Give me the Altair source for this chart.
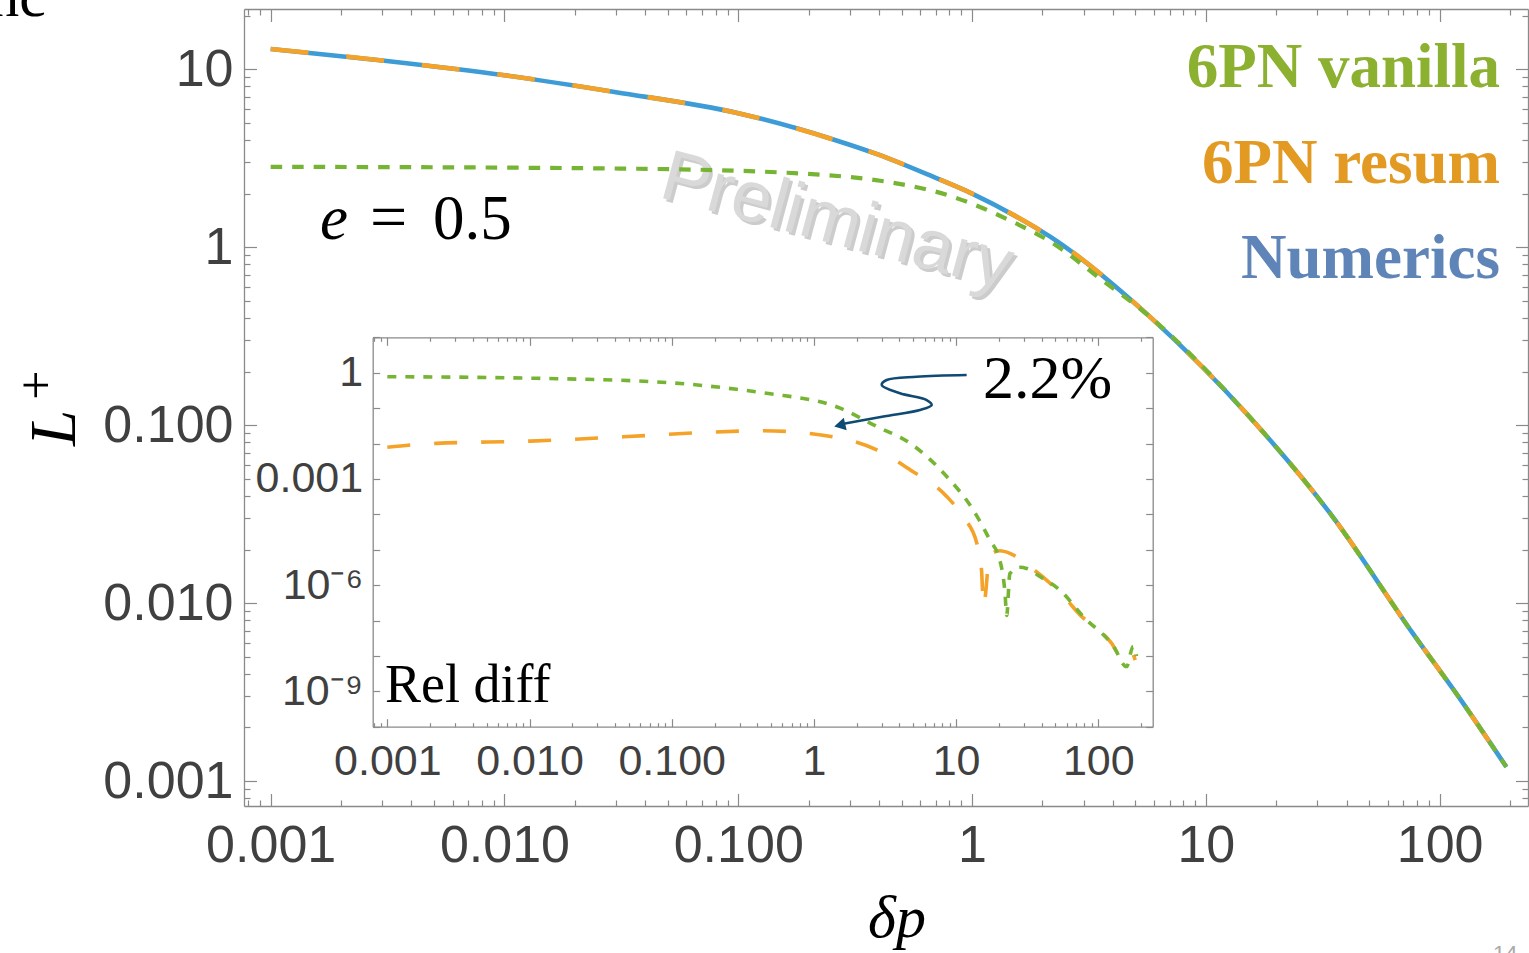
import altair as alt
import pandas as pd

# ---------------- main panel: L+ versus delta p ----------------
num_dp = [0.001, 0.003, 0.01, 0.03, 0.1, 0.255, 0.398, 0.684, 1.0, 1.556, 2.15, 5.77, 15.4, 33.9, 76.7, 124.0, 193.0]
num_L = [13.0, 11.2, 9.25, 7.43, 5.66, 4.03, 3.31, 2.48, 2.0, 1.48, 1.15, 0.406, 0.111, 0.0321, 0.00678, 0.00282, 0.00120]

resum_dp = [0.001, 0.003, 0.01, 0.03, 0.1, 0.255, 0.398, 0.684, 1.0, 1.556, 2.15, 5.77, 15.4, 33.9, 76.7, 124.0, 193.0]
resum_L = [13.0, 11.2, 9.25, 7.43, 5.66, 4.03, 3.31, 2.48, 2.0, 1.48, 1.15, 0.406, 0.111, 0.0321, 0.00678, 0.00282, 0.00120]

vanilla_dp = [0.001, 0.0284, 0.162, 0.68, 1.56, 2.15, 3.52, 5.77, 15.4, 33.9, 76.7, 124.0, 193.0]
vanilla_L = [2.83, 2.77, 2.62, 2.07, 1.35, 1.08, 0.668, 0.406, 0.111, 0.0321, 0.00678, 0.00282, 0.00120]

# ---------------- inset: relative difference ----------------
rel_van_dp = [0.001, 0.0112, 0.097, 0.286, 0.466, 1.53, 2.77, 4.74, 8.59, 13.2, 17.3, 20.3, 22.1, 22.7,
              23.9, 28.1, 31.4, 38.9, 53.8, 78.5, 128.0, 158.0, 176.0, 186.0]
rel_van = [0.771, 0.695, 0.521, 0.340, 0.262, 0.100, 0.0302, 0.0102, 1.17e-3, 1.32e-4, 1.86e-5, 5.1e-6,
           5.8e-7, 1.4e-7, 2.1e-6, 3.2e-6, 2.95e-6, 1.74e-6, 7.2e-7, 1.29e-7, 1.86e-8, 5.0e-9, 1.86e-8, 9.8e-9]

rel_res_dp = [0.001, 0.00145, 0.00222, 0.0101, 0.0457, 0.167, 0.441, 1.53, 2.77, 4.74, 8.59, 11.2, 14.0,
              15.1, 15.6, 17.3, 20.3, 23.9, 33.0, 44.5, 58.5, 76.6, 95.1, 124.0, 139.0, 147.0, 163.0, 182.0]
rel_res = [7.8e-3, 9.1e-3, 0.0101, 0.0117, 0.0155, 0.0204, 0.0229, 0.0141, 6.6e-3, 1.82e-3, 3.2e-4, 8.5e-5,
           1.51e-5, 2.7e-6, 2.6e-7, 7.1e-6, 9.3e-6, 7.9e-6, 3.3e-6, 1.26e-6, 4.3e-7, 1.29e-7, 6.6e-8, 2.3e-8,
           1.2e-8, 1.17e-8, 1.82e-8, 7.6e-9]

# annotation arrow ("2.2%") in inset coordinates
arrow_dp = [11.87, 5.28, 3.25, 3.00, 4.03, 6.21, 6.74, 5.57, 3.25, 2.11, 1.65]
arrow_rel = [0.861, 0.771, 0.622, 0.450, 0.262, 0.169, 0.122, 0.0883, 0.0598, 0.0441, 0.0367]
arrow_head_dp = [1.52]
arrow_head_rel = [0.0327]

# tick labels
main_x_major = [0.001, 0.01, 0.1, 1, 10, 100]
main_y_major = [0.001, 0.01, 0.1, 1, 10]
inset_x_major = [0.001, 0.01, 0.1, 1, 10, 100]
inset_y_labeled = [1, 0.001, 1e-6, 1e-9]
inset_y_decades = [1e-10, 1e-9, 1e-8, 1e-7, 1e-6, 1e-5, 1e-4, 1e-3, 1e-2, 1e-1, 1, 10]

DEC_LABEL = ("datum.value < 0.005 ? '0.001' : datum.value < 0.05 ? '0.010' : datum.value < 0.5 ? '0.100' : "
             "datum.value < 5 ? '1' : datum.value < 50 ? '10' : '100'")
INSET_Y_LABEL = ("datum.value > 0.5 ? '1' : datum.value > 1e-4 ? '0.001' : datum.value > 1e-7 ? '10⁻⁶' : '10⁻⁹'")

# ---------------- styling ----------------
W, H = 1284, 797
GRAY = "#8a8a8a"
LAB = "#404040"
BLUE = "#3D9BD5"
ORANGE = "#F4A228"
GREEN = "#76B534"

MAIN_X = dict(type="log", domain=[0.000769, 238.8], nice=False)
MAIN_Y = dict(type="log", domain=[0.000724, 21.8], nice=False)
IN_L, IN_R, IN_T, IN_B = 128.7, 908.7, 328.3, 717.7
INSET_X = dict(type="log", domain=[0.000789, 241.5], nice=False, range=[IN_L, IN_R])
INSET_Y = dict(type="log", domain=[1e-10, 10], nice=False, range=[IN_B, IN_T])


def minors(lo, hi):
    out = []
    for e in range(-11, 4):
        for m in range(2, 10):
            v = m * 10.0 ** e
            if lo <= v <= hi:
                out.append(v)
    return out


main_x_minor = minors(*MAIN_X["domain"])
main_y_minor = minors(*MAIN_Y["domain"])
inset_x_minor = minors(*INSET_X["domain"])


def tick_axis(orient, offset, values, size, domain=False):
    return alt.Axis(orient=orient, offset=offset, values=values, tickSize=size, ticks=True, labels=False,
                    domain=domain, grid=False, title=None, tickColor=GRAY, tickWidth=1.2,
                    domainColor=GRAY, domainWidth=1.3)


def label_axis(orient, offset, values, expr, size, pad):
    return alt.Axis(orient=orient, offset=offset, values=values, labelExpr=expr, ticks=False, tickSize=0,
                    domain=True, domainColor=GRAY, domainWidth=1.3, grid=False, title=None,
                    labelFont="Liberation Sans", labelFontSize=size, labelColor=LAB, labelPadding=pad,
                    labelFlush=False, labelOverlap=False, labelBound=False)


num_df = pd.DataFrame({"dp": num_dp, "L": num_L})
res_df = pd.DataFrame({"dp": resum_dp, "L": resum_L})
van_df = pd.DataFrame({"dp": vanilla_dp, "L": vanilla_L})
rv_df = pd.DataFrame({"dp": rel_van_dp, "r": rel_van})
rr_df = pd.DataFrame({"dp": rel_res_dp, "r": rel_res})
arr_df = pd.DataFrame({"dp": arrow_dp, "r": arrow_rel, "i": list(range(len(arrow_dp)))})
head_df = pd.DataFrame({"dp": arrow_head_dp, "r": arrow_head_rel})

# ---------------- main curves ----------------
mx_axis = label_axis("bottom", 0, main_x_major, DEC_LABEL, 52, 14)
my_axis = label_axis("left", 0, main_y_major, DEC_LABEL, 52, 11)


def main_line(df, color, width, dash=None):
    kw = dict(color=color, strokeWidth=width, interpolate="monotone")
    if dash:
        kw["strokeDash"] = dash
    return alt.Chart(df).mark_line(**kw).encode(
        x=alt.X("dp:Q", scale=alt.Scale(**MAIN_X), axis=mx_axis),
        y=alt.Y("L:Q", scale=alt.Scale(**MAIN_Y), axis=my_axis))


main_layer = alt.layer(
    main_line(num_df, BLUE, 4.6),
    main_line(res_df, ORANGE, 4.6, [38, 38]),
    main_line(van_df, GREEN, 4.2, [11.5, 10]),
)


def ghost(df, yf, xs, ys, xaxis, yaxis):
    return alt.Chart(df).mark_point(opacity=0).encode(
        x=alt.X("dp:Q", scale=alt.Scale(**xs), axis=xaxis),
        y=alt.Y(yf, scale=alt.Scale(**ys), axis=yaxis))


main_ticks = [
    ghost(num_df, "L:Q", MAIN_X, MAIN_Y, tick_axis("top", -H, main_x_major, 12.5),
          tick_axis("right", -W, main_y_major, 12.5)),
    ghost(num_df, "L:Q", MAIN_X, MAIN_Y, tick_axis("top", -H, main_x_minor, 6),
          tick_axis("right", -W, main_y_minor, 6)),
    ghost(num_df, "L:Q", MAIN_X, MAIN_Y, tick_axis("bottom", -H, main_x_major, 12.5, True),
          tick_axis("left", -W, main_y_major, 12.5, True)),
    ghost(num_df, "L:Q", MAIN_X, MAIN_Y, tick_axis("bottom", -H, main_x_minor, 6),
          tick_axis("left", -W, main_y_minor, 6)),
]

# ---------------- inset ----------------
ix_axis = label_axis("bottom", IN_B - H, inset_x_major, DEC_LABEL, 43, 14)
iy_axis = label_axis("left", -IN_L, inset_y_labeled, INSET_Y_LABEL, 43, 10)


def inset_enc(ch):
    return ch.encode(
        x=alt.X("dp:Q", scale=alt.Scale(**INSET_X), axis=ix_axis),
        y=alt.Y("r:Q", scale=alt.Scale(**INSET_Y), axis=iy_axis))


inset_layer = alt.layer(
    inset_enc(alt.Chart(rr_df).mark_line(color=ORANGE, strokeWidth=3.6, strokeDash=[23, 24],
                                         interpolate="monotone")),
    inset_enc(alt.Chart(rv_df).mark_line(color=GREEN, strokeWidth=3.6, strokeDash=[9, 9],
                                         interpolate="monotone")),
    inset_enc(alt.Chart(arr_df).mark_line(color="#0E4A74", strokeWidth=2.6,
                                          interpolate="catmull-rom")).encode(order=alt.Order("i:Q")),
    inset_enc(alt.Chart(head_df).mark_point(shape="triangle-left", filled=True, color="#0E4A74",
                                            opacity=1, size=170, angle=347)),
)

inset_ticks = [
    ghost(rr_df, "r:Q", INSET_X, INSET_Y, tick_axis("top", -IN_B, inset_x_major, 8),
          tick_axis("right", IN_L - W, inset_y_decades, 7)),
    ghost(rr_df, "r:Q", INSET_X, INSET_Y, tick_axis("top", -IN_B, inset_x_minor, 4),
          tick_axis("left", -IN_R, inset_y_decades, 7, True)),
    ghost(rr_df, "r:Q", INSET_X, INSET_Y, tick_axis("bottom", IN_T - H, inset_x_major, 8, True), None),
    ghost(rr_df, "r:Q", INSET_X, INSET_Y, tick_axis("bottom", IN_T - H, inset_x_minor, 4), None),
]


# ---------------- texts ----------------
def txt(text, x, y, size, color="black", font="Liberation Serif", weight="normal", style="normal",
        align="left", baseline="alphabetic", angle=0, opacity=1.0):
    return alt.Chart(pd.DataFrame({"t": [text]})).mark_text(
        align=align, baseline=baseline, font=font, fontSize=size, fontWeight=weight, fontStyle=style,
        color=color, angle=angle, opacity=opacity).encode(x=alt.value(x), y=alt.value(y), text="t:N")


watermark = [
    txt("Preliminary", 596, 216, 72, color="#8f8f8f", font="Liberation Sans", align="center",
        baseline="middle", angle=15, opacity=0.45),
    txt("Preliminary", 593, 213, 72, color="#d9d9d9", font="Liberation Sans", align="center",
        baseline="middle", angle=15),
]

texts = [
    txt("6PN vanilla", 1256, 78, 63, color="#8CB02F", weight="bold", align="right"),
    txt("6PN resum", 1256, 174, 63, color="#E29A22", weight="bold", align="right"),
    txt("Numerics", 1256, 269, 63, color="#5E84B8", weight="bold", align="right"),
    txt("e", 76, 230, 63, style="italic"),
    txt("=", 126, 230, 66),
    txt("0.5", 189, 230, 63),
    txt("2.2%", 739, 389, 62),
    txt("Rel diff", 141, 693, 54),
    txt("L", -169, 419, 65, style="italic", align="center", angle=270),
    txt("+", -207, 376, 52, align="center", baseline="middle", angle=270),
    txt("δp", 653, 928, 60, style="italic", align="center"),
    txt("nc", -198, 7, 60, align="right"),
    txt("14", 1249, 935, 22, color="#aaaaaa", font="Liberation Sans", baseline="top"),
]

chart = alt.layer(
    *watermark, main_layer, *main_ticks, inset_layer, *inset_ticks, *texts
).resolve_scale(x="independent", y="independent").properties(
    width=W, height=H,
    padding={"left": 244, "top": 9, "right": 1, "bottom": 147},
    autosize=alt.AutoSizeParams(type="none"),
).configure_view(stroke="transparent")

chart.save("out.html", embed_options={"renderer": "svg", "actions": False})
